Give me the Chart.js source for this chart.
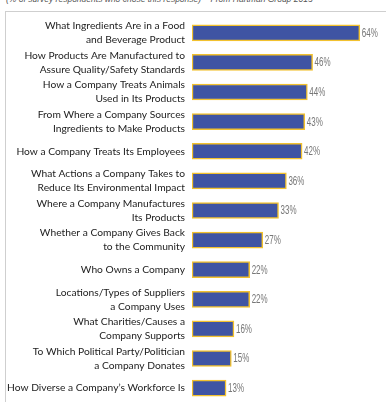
<!DOCTYPE html>
<html>
<head>
<meta charset="utf-8">
<script src="https://cdn.jsdelivr.net/npm/chart.js@4"></script>
<style>
  html, body { margin:0; padding:0; background:#fff; width:386px; height:402px; overflow:hidden; }
  #note { position:absolute; left:6px; top:-6px; font:italic 8.5px "Liberation Sans Narrow", "Liberation Sans", sans-serif; color:#555; white-space:nowrap; }
  #box { position:absolute; left:5px; top:11px; width:381px; height:391px; border-top:1px solid #cfcfcf; border-left:1px solid #cfcfcf; box-sizing:border-box; }
  #wrap { position:absolute; left:0; top:0; width:386px; height:424px; }
</style>
</head>
<body>
<div id="note">(% of survey respondents who chose this response) – From Hartman Group 2015</div>
<div id="box"></div>
<div id="wrap"><canvas id="c"></canvas></div>
<script>
const categories = [
  ["What Ingredients Are in a Food", "and Beverage Product"],
  ["How Products Are Manufactured to", "Assure Quality/Safety Standards"],
  ["How a Company Treats Animals", "Used in Its Products"],
  ["From Where a Company Sources", "Ingredients to Make Products"],
  "How a Company Treats Its Employees",
  ["What Actions a Company Takes to", "Reduce Its Environmental Impact"],
  ["Where a Company Manufactures", "Its Products"],
  ["Whether a Company Gives Back", "to the Community"],
  "Who Owns a Company",
  ["Locations/Types of Suppliers", "a Company Uses"],
  ["What Charities/Causes a", "Company Supports"],
  ["To Which Political Party/Politician", "a Company Donates"],
  "How Diverse a Company\u2019s Workforce Is"
];
const values = [64, 46, 44, 43, 42, 36, 33, 27, 22, 22, 16, 15, 13];
const valueLabels = ["64%", "46%", "44%", "43%", "42%", "36%", "33%", "27%", "22%", "22%", "16%", "15%", "13%"];

const valuePlugin = {
  id: 'valueLabels',
  afterDatasetsDraw(chart) {
    const ctx = chart.ctx;
    const meta = chart.getDatasetMeta(0);
    ctx.save();
    ctx.font = '12.5px "Liberation Sans", sans-serif';
    ctx.fillStyle = '#777';
    ctx.textAlign = 'left';
    ctx.textBaseline = 'middle';
    meta.data.forEach((bar, i) => {
      ctx.save();
      ctx.translate(bar.x + 2, bar.y + 0.5);
      ctx.scale(0.64, 1);
      ctx.fillText(valueLabels[i], 0, 0);
      ctx.restore();
    });
    ctx.restore();
  }
};

new Chart(document.getElementById('c'), {
  type: 'bar',
  data: {
    labels: categories,
    datasets: [{
      data: values,
      backgroundColor: '#3f54a3',
      borderColor: '#f2c12e',
      borderWidth: 1.5,
      borderSkipped: false,
      barThickness: 16
    }]
  },
  options: {
    indexAxis: 'y',
    responsive: true,
    maintainAspectRatio: false,
    animation: false,
    layout: { padding: { top: 18, bottom: 0, left: 0, right: 0 } },
    plugins: { legend: { display: false }, tooltip: { enabled: false } },
    scales: {
      x: { display: false, min: 0, max: 74 },
      y: {
        afterFit(scale) { scale.width = 192; },
        grid: { display: false, drawTicks: false },
        border: { display: false },
        ticks: {
          autoSkip: false,
          padding: 7,
          color: '#222',
          font: { family: 'Lato, "Open Sans", sans-serif', size: 10.25, lineHeight: 1.37 }
        }
      }
    }
  },
  plugins: [valuePlugin]
});
</script>
</body>
</html>
